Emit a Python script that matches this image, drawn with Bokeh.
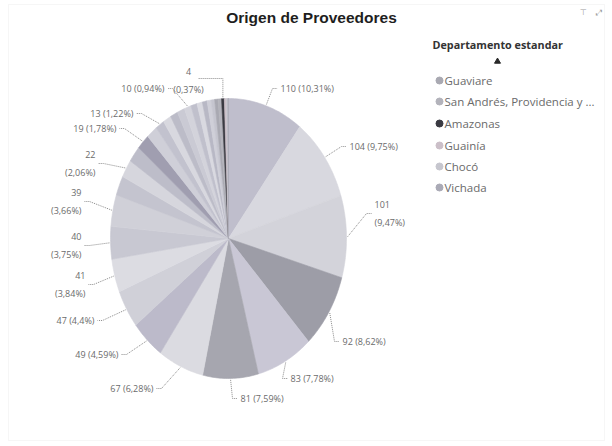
import math
from bokeh.plotting import figure
from bokeh.models import Range1d, ColumnDataSource, BoxAnnotation
from bokeh.core.properties import value
from bokeh.embed import file_html
from bokeh.resources import INLINE

# ---------------- data ----------------
# supplier count per department, in the pie's clockwise order (from 12 o'clock)
values = [110, 104, 101, 92, 83, 81, 67, 49, 47, 41, 40, 39,
          24, 22, 20, 19, 16, 13, 12, 11, 11, 10,
          9, 8, 7, 6, 5,
          5, 5, 4, 3, 2, 1]
# which slices carry a data label in the picture
labeled = [True] * 12 + [False, True, False, True, False, True, False, False, False, True,
                         False, False, False, False, False,
                         False, False, True, False, False, False]
# the six legend entries visible (the last six slices)
legend_names = ["Guaviare", "San Andrés, Providencia y ...", "Amazonas", "Guainía", "Chocó", "Vichada"]
title_text = "Origen de Proveedores"
legend_title = "Departamento estandar"

# ---------------- styles / layout ----------------
slice_colors = ["#bfbecc", "#d8d8df", "#d3d3da", "#9d9da7", "#c9c7d5", "#a6a6af", "#dbdbe1",
                "#bcbaca", "#d0d0d8", "#dcdce2", "#c8c8d2", "#d0d0d8",
                "#c4c4cf", "#d6d6dd", "#bdbdc9", "#a09eb0", "#cfcfd8", "#c2c2ce",
                "#d8d8df", "#bcbcc8", "#cacad4", "#d3d3db",
                "#c0c0cc", "#d9d9e0", "#b8b8c5", "#cfcfd8", "#c5c5cf",
                "#a9a9b2", "#b3b3bb", "#3a3a42", "#cbbfc8", "#c6c6ce", "#aaaab6"]

W, H = 610, 444
CX, CY, RX, RY = 228, 238, 118, 140

# label layout for labelled slices in order: (side, x, y_center, two_lines)  [px]
label_layout = [("R", 280, 88, False), ("R", 349, 146, False), ("R", 374, 213, True),
                ("R", 342, 341, False), ("R", 290, 378, False), ("R", 240, 398, False),
                ("L", 153, 388, False), ("L", 118, 354, False), ("L", 94, 320, False),
                ("L", 85, 284, True), ("L", 81, 245, True), ("L", 81, 201, True),
                ("L", 95, 163, True), ("L", 116, 128, False), ("L", 133, 113, False),
                ("L", 164, 88, False), ("T", 188, 80, True)]

LABEL_FONT = value("Open Sans")
LABEL_COLOR = "#6b6b6b"

p = figure(width=W, height=H, output_backend="svg", toolbar_location=None,
           x_range=Range1d(0, W), y_range=Range1d(H, 0),
           x_axis_type=None, y_axis_type=None, min_border=0)
p.outline_line_color = None
p.background_fill_color = "white"
p.border_fill_color = "white"

# visual frame
p.add_layout(BoxAnnotation(left=8, right=604, top=4, bottom=440, fill_alpha=0,
                           line_color="#c4c4c4", line_dash="1 1", line_width=1))

total = float(sum(values))

def pt(theta, k=1.0):
    return CX + k * RX * math.sin(theta), CY - k * RY * math.cos(theta)

# ---------------- slices ----------------
xs, ys, mids = [], [], []
cum = 0.0
for v in values:
    a0 = cum / total * 2 * math.pi
    cum += v
    a1 = cum / total * 2 * math.pi
    n = max(2, int((a1 - a0) / (math.pi / 180)) + 2)
    px, py = [CX], [CY]
    for i in range(n + 1):
        t = a0 + (a1 - a0) * i / n
        x, y = pt(t)
        px.append(x)
        py.append(y)
    xs.append(px)
    ys.append(py)
    mids.append((a0 + a1) / 2)

p.patches(xs=xs, ys=ys, fill_color=slice_colors, line_color=slice_colors, line_width=0.6)

# ---------------- labels & leaders ----------------
def fmt_pct(v):
    s = f"{v / total * 100:.2f}".rstrip("0").rstrip(".")
    return s.replace(".", ",")

lab_idx = [i for i, f in enumerate(labeled) if f]
texts = {"left": ([], [], []), "right": ([], [], []), "center": ([], [], [])}
lx_lines, ly_lines = [], []
for (side, lx, lyc, two), i in zip(label_layout, lab_idx):
    v = values[i]
    align = {"R": "left", "L": "right", "T": "center"}[side]
    if two:
        parts = [(str(v), lyc - 9), (f"({fmt_pct(v)}%)", lyc + 9)]
    else:
        parts = [(f"{v} ({fmt_pct(v)}%)", lyc)]
    for t, yy in parts:
        texts[align][0].append(lx)
        texts[align][1].append(yy)
        texts[align][2].append(t)
    ax, ay = pt(mids[i], 1.01)
    if side == "R":
        lx_lines.append([ax, lx - 8, lx - 3])
        ly_lines.append([ay, lyc, lyc])
    elif side == "L":
        lx_lines.append([ax, lx + 8, lx + 3])
        ly_lines.append([ay, lyc, lyc])
    else:
        lx_lines.append([ax, ax, lx + 10])
        ly_lines.append([ay, lyc - 2, lyc - 2])

p.multi_line(xs=lx_lines, ys=ly_lines, line_color="#8a8a8a", line_width=1, line_dash="1 1")

for align, (tx, ty, tt) in texts.items():
    if tx:
        p.text(x=tx, y=ty, text=tt, text_align=align, text_baseline="middle",
               text_font=LABEL_FONT, text_font_size="9px", text_color=LABEL_COLOR)

# ---------------- title ----------------
p.text(x=[311], y=[17], text=[title_text], text_align="center", text_baseline="middle",
       text_font=value("Liberation Sans"), text_font_style="bold", text_font_size="15.5px",
       text_color="#1e1e1e")

# header icons (top right)
p.text(x=[583, 598], y=[12, 12], text=["⊤", "⤢"], text_align="center",
       text_baseline="middle", text_font=value("DejaVu Sans"), text_font_size="8px", text_color="#9a9a9a")

# ---------------- legend ----------------
p.text(x=[432], y=[44], text=[legend_title], text_align="left", text_baseline="middle",
       text_font=LABEL_FONT, text_font_style="bold", text_font_size="10.8px", text_color="#333333")
p.scatter(x=[497], y=[61], marker="triangle", size=6, fill_color="#2a2a2a", line_color="#2a2a2a")

leg_y = [80, 101, 123, 145, 166, 187]
leg_colors = slice_colors[-len(legend_names):]
src = ColumnDataSource(dict(x=[439] * len(legend_names), tx=[444] * len(legend_names),
                            y=leg_y, c=leg_colors, t=legend_names))
p.scatter(x="x", y="y", source=src, marker="circle", size=7, fill_color="c", line_color="c")
p.text(x="tx", y="y", text="t", source=src, text_align="left", text_baseline="middle",
       text_font=LABEL_FONT, text_font_size="11.5px", text_color="#6a6a6a")

open("out.html", "w").write(file_html(p, INLINE))
